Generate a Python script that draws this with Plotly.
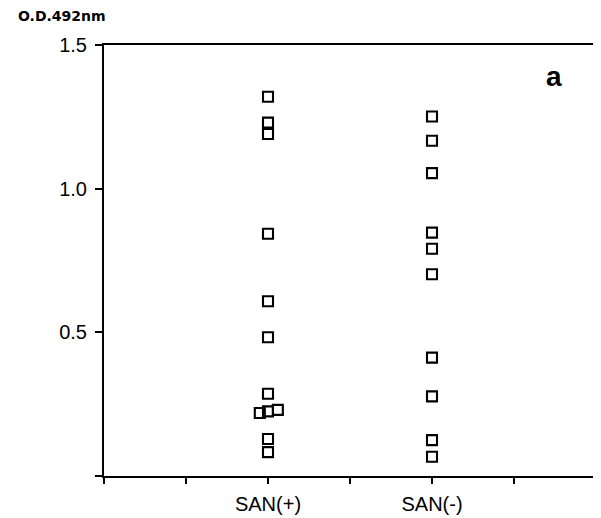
import plotly.graph_objects as go

# Data
categories = ["SAN(+)", "SAN(-)"]
category_positions = [2, 4]
x_tick_values = [0, 1, 2, 3, 4, 5, 6]
x_tick_labels = ["", "", "SAN(+)", "", "SAN(-)", "", ""]
y_tick_values = [0, 0.5, 1.0, 1.5]
y_tick_labels = ["", "0.5", "1.0", "1.5"]

san_pos_x = [2.0, 2.0, 2.0, 2.0, 2.0, 2.0, 2.0, 1.90, 2.0, 2.12, 2.0, 2.0]
san_pos_y = [1.32, 1.23, 1.19, 0.843, 0.608, 0.483, 0.286, 0.219, 0.225, 0.230, 0.129, 0.083]

san_neg_x = [4.0, 4.0, 4.0, 4.0, 4.0, 4.0, 4.0, 4.0, 4.0, 4.0]
san_neg_y = [1.251, 1.167, 1.054, 0.847, 0.791, 0.702, 0.412, 0.277, 0.125, 0.067]

marker_style = dict(symbol="square-open", size=10, color="black", line=dict(width=2.1, color="black"))

fig = go.Figure()
fig.add_trace(go.Scatter(x=san_pos_x, y=san_pos_y, mode="markers", marker=marker_style,
                         name=categories[0], showlegend=False, cliponaxis=False))
fig.add_trace(go.Scatter(x=san_neg_x, y=san_neg_y, mode="markers", marker=marker_style,
                         name=categories[1], showlegend=False, cliponaxis=False))

fig.update_layout(
    width=593, height=510,
    margin=dict(l=96, r=3, t=37, b=32),
    paper_bgcolor="white", plot_bgcolor="white",
    font=dict(family="Liberation Sans, Arial, sans-serif", color="black"),
    xaxis=dict(range=[0, 6], tickvals=x_tick_values, ticktext=x_tick_labels,
               showgrid=False, zeroline=False, showline=True, linecolor="black", linewidth=2,
               mirror=True, ticks="outside", ticklen=6, tickwidth=1.5, tickcolor="black",
               tickfont=dict(size=20), ticklabelstandoff=3),
    yaxis=dict(range=[0, 1.5], tickvals=y_tick_values, ticktext=y_tick_labels,
               showgrid=False, zeroline=False, showline=True, linecolor="black", linewidth=2,
               mirror=True, ticks="outside", ticklen=7, tickwidth=1.5, tickcolor="black",
               tickfont=dict(size=20), ticklabelstandoff=4),
    annotations=[
        dict(text="<b>O.D.492nm</b>", xref="paper", yref="paper", x=-0.085, y=1.068,
             xanchor="center", yanchor="middle", showarrow=False,
             font=dict(family="DejaVu Sans, sans-serif", size=14, color="black")),
        dict(text="<b>a</b>", xref="paper", yref="paper", x=0.915, y=0.926,
             xanchor="center", yanchor="middle", showarrow=False,
             font=dict(family="Liberation Sans Narrow, Arial Narrow, sans-serif", size=28, color="black")),
    ],
)

fig.write_html("out.html")
